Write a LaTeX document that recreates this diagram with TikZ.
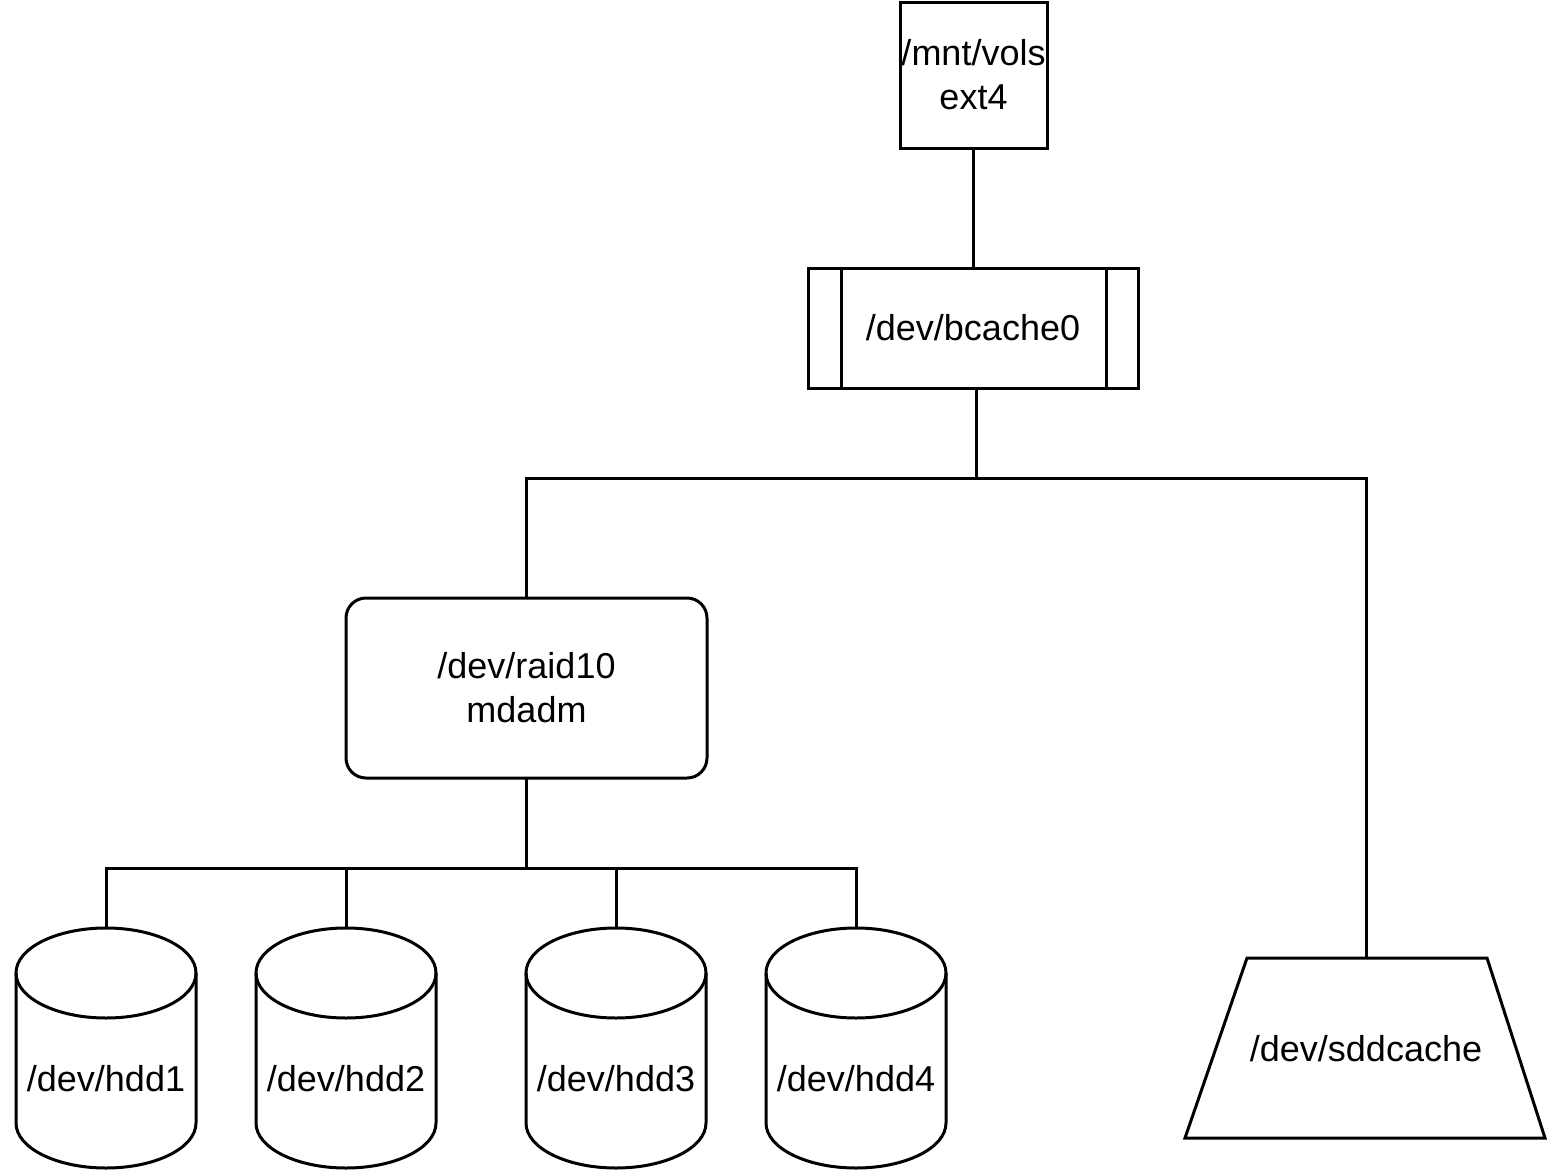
\documentclass[tikz,border=0pt]{standalone}
\usepackage{fontspec}
\setmainfont{Liberation Sans}
\begin{document}
\begin{tikzpicture}[x=1pt, y=-1pt, line width=3pt,
  lbl/.style={font=\fontsize{36}{44}\selectfont, align=center, inner sep=0pt, outer sep=0pt},
  box/.style={draw, lbl}]
\useasboundingbox[fill=white] (0,0) rectangle (1548,1170);

% mount point and cache device
\node[box, minimum width=147, minimum height=146] (vols) at (973.5,75) {/mnt/vols\\ext4};
\node[box, minimum width=330, minimum height=120] (bcache) at (973,328) {/dev/bcache0};
\draw ([xshift=33]bcache.north west) -- ([xshift=33]bcache.south west);
\draw ([xshift=-32]bcache.north east) -- ([xshift=-32]bcache.south east);

% RAID array
\node[box, rounded corners=20, minimum width=361, minimum height=180] (raid) at (526.5,688) {/dev/raid10\\mdadm};

% SSD cache (trapezium)
\draw (1247,958) -- (1487,958) -- (1545,1138) -- (1185,1138) -- cycle;
\node[lbl, minimum width=240, minimum height=180] (ssd) at (1366,1048) {};
\node[lbl] (ssdtext) at (1366,1049) {/dev/sddcache};

% hard disks (cylinders)
\foreach \cx/\nm in {106/hdd1, 346/hdd2, 616/hdd3, 856/hdd4} {
  \draw (\cx-90,973) arc[start angle=180, end angle=360, x radius=90, y radius=-45]
        arc[start angle=0, end angle=180, x radius=90, y radius=-45] -- cycle;
  \draw (\cx-90,973) -- (\cx-90,1123)
        arc[start angle=180, end angle=360, x radius=90, y radius=-45]
        -- (\cx+90,973);
  \node[lbl, minimum width=180, minimum height=240] (\nm) at (\cx,1048) {};
  \node[lbl] (\nm-text) at (\cx,1079) {/dev/\nm};
}

% connectors
\coordinate (busA) at (976,478);
\coordinate (busB) at (526,868);
\draw (vols.south -| 973,0) -- (bcache.north -| 973,0);
\draw (bcache.south -| busA) -- (busA);
\draw (raid.north) |- (busA) -| (ssd.north);
\draw (raid.south -| busB) -- (busB);
\draw (hdd1.north) |- (busB);
\draw (hdd4.north) |- (busB);
\draw (hdd2.north) -- (hdd2.north |- busB);
\draw (hdd3.north) -- (hdd3.north |- busB);
\end{tikzpicture}
\end{document}
